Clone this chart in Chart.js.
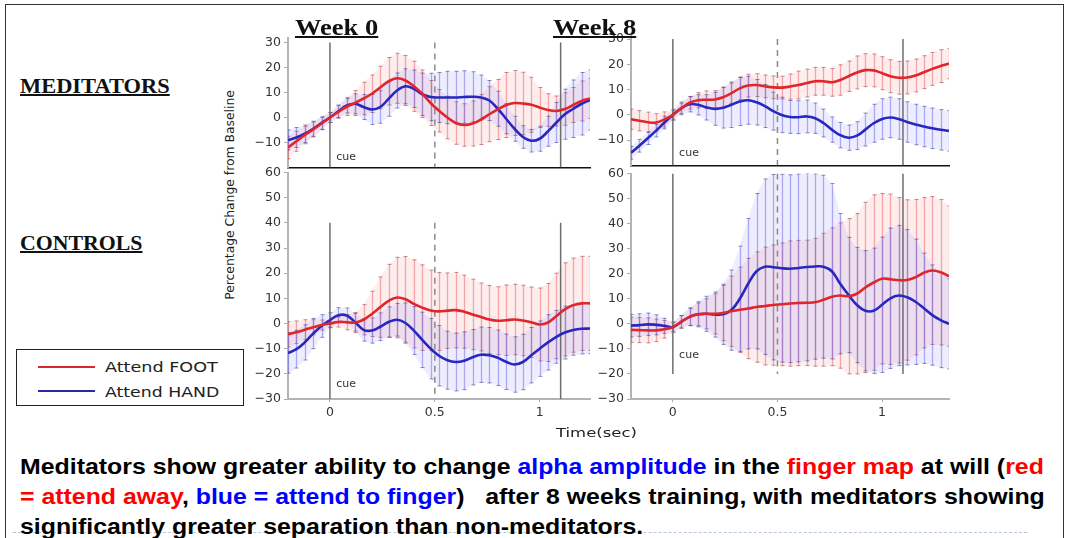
<!DOCTYPE html>
<html>
<head>
<meta charset="utf-8">
<script src="https://cdn.jsdelivr.net/npm/chart.js@4.4.0/dist/chart.umd.min.js"></script>
<style>
    html, body { margin: 0; padding: 0; background: #fff; width: 1067px; height: 538px; overflow: hidden; }
    #frame { position: absolute; left: 5px; top: 4px; width: 1059px; height: 600px; border: 1.5px solid #333; box-sizing: border-box; }
    canvas { position: absolute; }
    .txt { position: absolute; white-space: pre; line-height: 1; transform-origin: 0 0; }
    .head { font-family: 'Liberation Serif', serif; font-weight: bold; text-decoration: underline; text-decoration-thickness: 1.5px; color: #111; }
    .small { font-family: 'DejaVu Sans', sans-serif; color: #222; }
    .cap { position: absolute; left: 20px; white-space: pre; font-family: 'Liberation Sans', Arial, sans-serif; font-weight: bold; font-size: 22px; line-height: 30px; color: #000; transform-origin: 0 0; }
    .r { color: #ff0000; }
    .b { color: #0000ff; }
    #legend { position: absolute; left: 16px; top: 349px; width: 228px; height: 57px; border: 1.5px solid #222; box-sizing: border-box; background: #fff; }
    .key { position: absolute; height: 2px; }
</style>
</head>
<body>
<div id="frame"></div>
<div style="position:absolute;left:13px;top:532px;width:1014px;border-top:1.5px dashed #b8c8dc;"></div>

<canvas id="medW0" width="359" height="151" style="left:243px;top:27px;"></canvas>
<canvas id="medW8" width="375" height="151" style="left:586px;top:25px;"></canvas>
<canvas id="ctlW0" width="359" height="271" style="left:243px;top:162px;"></canvas>
<canvas id="ctlW8" width="375" height="270" style="left:586px;top:163px;"></canvas>

<div class="txt head" style="left:295px;top:16px;font-size:23px;" data-fit="83">Week 0</div>
<div class="txt head" style="left:553px;top:16px;font-size:23px;" data-fit="83">Week 8</div>
<div class="txt head" style="left:20px;top:75px;font-size:22px;" data-fit="150">MEDITATORS</div>
<div class="txt head" style="left:20px;top:232px;font-size:22px;" data-fit="122">CONTROLS</div>

<div id="ytitle" class="txt small" style="left:229px;top:195px;font-size:13px;line-height:1;">Percentage Change from Baseline</div>
<div class="txt small" style="left:556px;top:426px;font-size:13px;" data-fit="81">Time(sec)</div>

<div id="legend"></div>
<div class="key" style="left:38px;top:366px;width:57px;background:#d42a30;"></div>
<div class="key" style="left:38px;top:390px;width:57px;background:#2a2aa8;"></div>
<div class="txt small" style="left:105px;top:360px;font-size:14px;" data-fit="113">Attend FOOT</div>
<div class="txt small" style="left:105px;top:385px;font-size:14px;" data-fit="115">Attend HAND</div>

<div id="cap1" class="cap" style="top:452px;">Meditators show greater ability to change <span class="b">alpha amplitude</span> in the <span class="r">finger map</span> at will (<span class="r">red</span></div>
<div class="cap" style="top:482px;"><span class="r">= attend away</span>, <span class="b">blue = attend to finger</span>)   after 8 weeks training, with meditators showing</div>
<div class="cap" style="top:512px;">significantly greater separation than non-meditators.</div>

<script>
// Time axis (sec) shared by all panels; left column stops at 1.24 s
const times = [-0.2, -0.16, -0.12, -0.08, -0.04, 0, 0.04, 0.08, 0.12, 0.16, 0.2, 0.24, 0.28, 0.32, 0.36, 0.4, 0.44, 0.48, 0.52, 0.56, 0.6, 0.64, 0.68, 0.72, 0.76, 0.8, 0.84, 0.88, 0.92, 0.96, 1, 1.04, 1.08, 1.12, 1.16, 1.2, 1.24, 1.28, 1.32];

// Meditators, week 0
const medW0Foot = [-12, -9.5, -7, -4.8, -2.4, 0, 2.2, 4.3, 5.8, 7.6, 9.5, 12, 14.5, 15.7, 14.8, 12.5, 9.5, 5.8, 2.7, 0, -2.2, -3, -2.4, -0.8, 1.3, 3.2, 5, 5.8, 5.6, 5.1, 4, 3, 2.6, 3.4, 5, 6.6, 7.6];
const medW0FootErr = [4.5, 4, 3.5, 3, 2.5, 2, 2.5, 3.5, 5, 6.5, 7.5, 8.5, 9.5, 10, 10, 10, 9.5, 9, 8.5, 8.5, 8.5, 8.5, 9, 10, 11, 12, 13, 13, 12.5, 11, 8, 6.5, 6, 6.5, 7, 8, 8];
const medW0Hand = [-9, -8, -6.5, -4.5, -2.2, 0, 2.5, 4.8, 5.5, 4.2, 3.2, 4.2, 7.5, 10.8, 12.5, 11.5, 9.3, 8.2, 8, 8, 8, 8.2, 8.3, 8, 6.8, 3.5, -0.5, -4.5, -7.8, -9.3, -8.5, -5.5, -2, 1.3, 3.5, 5.5, 7];
const medW0HandErr = [4, 4, 3.5, 3, 2.5, 2, 2.5, 3, 4, 5, 6, 6.5, 7, 7, 7, 7.5, 8.5, 9.5, 10, 10.5, 10.5, 10.5, 10, 9, 8, 7, 6, 5, 4.5, 4.5, 5, 6, 8, 10, 11.5, 12.5, 12];

// Meditators, week 8
const medW8Foot = [-1.7, -2.3, -2.9, -3, -1.8, 0, 2.6, 4.8, 5.8, 6, 6.1, 7, 8.6, 10.5, 11.6, 11.8, 11.3, 10.9, 10.8, 11.2, 11.8, 12.6, 13.3, 13.3, 12.9, 13.8, 15.3, 16.8, 17.7, 17.6, 16.5, 15.3, 14.7, 14.8, 15.6, 16.9, 18.2, 19.3, 20.3];
const medW8FootErr = [4, 4, 4, 3.5, 3, 2, 2, 2.5, 3, 3.5, 3.5, 4, 4, 4.5, 4.5, 4.5, 4.5, 4.5, 4.5, 5, 5.5, 5.5, 5.5, 5.5, 5.5, 6, 6, 6.5, 6.5, 6.5, 6.5, 6.5, 6.5, 6.5, 6.5, 6.5, 6.5, 6.5, 6];
const medW8Hand = [-15, -12.2, -9.2, -6.2, -3, 0, 2.6, 4.2, 4, 3, 2.4, 2.8, 4, 5.3, 5.8, 5, 3.5, 1.5, 0, -0.8, -0.9, -0.6, -1.3, -3.2, -5.8, -8, -9, -8.2, -5.8, -3.3, -1.6, -1, -1.6, -2.8, -3.8, -4.6, -5.3, -5.9, -6.3];
const medW8HandErr = [2.5, 2.5, 2.5, 2.5, 2.5, 2, 2.5, 3, 4, 5, 6.5, 8, 9, 9.5, 9.5, 9, 8.5, 7.5, 7, 6.5, 6.5, 6.5, 6, 5.5, 5, 5, 5, 5.5, 6.5, 7.5, 8, 8, 8, 8, 8, 8, 8, 8, 8];

// Controls, week 0
const ctlW0Foot = [-4.3, -3.5, -2.5, -1.5, -0.6, 0, 0.6, 0.5, 0.4, 1.5, 3.8, 6.5, 9, 10.3, 9.6, 7.8, 6.3, 5.2, 4.8, 5.1, 5.3, 4.7, 3.6, 2.6, 1.6, 1.1, 1.3, 1.6, 1.2, 0.5, -0.4, 0.4, 3, 5.6, 7.3, 8, 8];
const ctlW0FootErr = [5, 4.5, 4, 3, 2, 1.5, 2, 3, 4, 6, 9, 12, 14.5, 16, 17, 17.5, 17, 16, 15.5, 15, 15, 14.5, 14, 13.5, 13.5, 13.5, 14, 14, 14, 14, 14.5, 15.5, 17, 18.5, 18.7, 18.7, 18.7];
const ctlW0Hand = [-11.7, -10.2, -7.5, -4, -1, 1.3, 3.3, 3.2, 0.5, -2.5, -2.8, -1.3, 0.6, 1.5, 0.2, -2.8, -6.5, -10, -12.8, -14.6, -15.3, -14.8, -13.4, -12.4, -12.6, -13.6, -15.2, -16.3, -15.3, -12.6, -10, -7.5, -5.3, -3.6, -2.6, -2.1, -2];
const ctlW0HandErr = [8, 7.5, 7, 6, 4.5, 3, 3, 3, 3.5, 4.5, 5, 5.5, 6, 6.5, 8, 9.5, 11, 12, 12, 11.5, 11.5, 11.5, 11, 11, 11, 11, 11, 11, 11, 11, 11, 11, 10.5, 10.5, 10, 10, 10];

// Controls, week 8
const ctlW8Foot = [-2.4, -2.5, -2.6, -2.6, -2.2, -1.3, 0.8, 2.8, 3.8, 4, 4, 4.3, 5, 5.6, 6.1, 6.7, 7.1, 7.5, 7.8, 8.1, 8.3, 8.4, 8.6, 9.6, 10.8, 11.3, 11, 12, 14.5, 16.5, 18, 17.8, 17.4, 17.5, 18.6, 20.4, 21.3, 20.6, 19];
const ctlW8FootErr = [5, 5, 5, 4.5, 3.5, 2, 2.5, 3.5, 4.5, 6, 8, 11, 14, 17, 20, 22, 23.5, 24, 24.5, 25, 25, 25, 25.5, 26.5, 27.5, 29, 31, 32, 34, 35, 34, 34, 33, 32, 31, 30, 29.5, 29, 28];
const ctlW8Hand = [-0.7, -0.5, -0.2, -0.4, -0.8, -1.3, 0.8, 2.8, 3.8, 4, 3.7, 3.8, 5.5, 10, 16, 21, 22.8, 22.6, 22.2, 22, 22.3, 22.7, 22.9, 22.8, 21, 16, 11.5, 7.5, 5.2, 5.2, 7.6, 10.2, 11.3, 10.6, 8.8, 6.2, 3.5, 1.5, 0];
const ctlW8HandErr = [4.5, 4.5, 4.5, 4, 3, 2, 2.5, 3.5, 5, 7, 9, 12, 16, 21, 26, 31, 35, 37, 37.5, 37.5, 37.5, 37.5, 37, 36.5, 35, 28, 23, 23, 24, 25, 27, 28, 28, 27, 25, 22, 20, 19, 18];

// Axis ticks and event markers
const yTicksTop = [30, 20, 10, 0, -10];
const yTicksBottom = [60, 50, 40, 30, 20, 10, 0, -10, -20, -30];
const xTicks = [0, 0.5, 1];
const solidMarkers = [0, 1.1];
const dashedMarkers = [0.5];

const footColor = '#e0262b';
const handColor = '#2828c0';

// error bars (with a faint band behind them), marker lines and the "cue" label
const panelDecor = {
    id: 'panelDecor',
    beforeDatasetsDraw: function(chart, args, opts) {
        const ctx = chart.ctx;
        const area = chart.chartArea;
        const x = chart.scales.x;
        const y = chart.scales.y;
        ctx.save();
        ctx.beginPath();
        ctx.rect(area.left, area.top, area.right - area.left, area.bottom - area.top);
        ctx.clip();

        chart.data.datasets.forEach(function(ds) {
            // band between mean + err and mean - err
            ctx.fillStyle = ds.bandColor;
            ctx.beginPath();
            ds.data.forEach(function(pt, i) {
                const px = x.getPixelForValue(pt.x);
                const py = y.getPixelForValue(pt.y + ds.errors[i]);
                if (i === 0) ctx.moveTo(px, py); else ctx.lineTo(px, py);
            });
            for (let i = ds.data.length - 1; i >= 0; i--) {
                const pt = ds.data[i];
                ctx.lineTo(x.getPixelForValue(pt.x), y.getPixelForValue(pt.y - ds.errors[i]));
            }
            ctx.closePath();
            ctx.fill();
        });

        chart.data.datasets.forEach(function(ds) {
            ds.data.forEach(function(pt, i) {
                const e = ds.errors[i];
                const px = Math.round(x.getPixelForValue(pt.x)) + 0.5;
                const top = y.getPixelForValue(pt.y + e);
                const bot = y.getPixelForValue(pt.y - e);
                ctx.strokeStyle = ds.barColor;
                ctx.lineWidth = 1.3;
                ctx.beginPath();
                ctx.moveTo(px, top);
                ctx.lineTo(px, bot);
                ctx.stroke();
                ctx.strokeStyle = ds.capColor;
                ctx.lineWidth = 1;
                ctx.beginPath();
                ctx.moveTo(px - 2, top);
                ctx.lineTo(px + 2, top);
                ctx.moveTo(px - 2, bot);
                ctx.lineTo(px + 2, bot);
                ctx.stroke();
            });
        });

        ctx.strokeStyle = '#6e6e6e';
        ctx.lineWidth = 1.5;
        const drawMarker = function(t) {
            const px = x.getPixelForValue(t);
            ctx.beginPath();
            ctx.moveTo(px, y.getPixelForValue(opts.markerTop));
            ctx.lineTo(px, y.getPixelForValue(opts.markerBottom));
            ctx.stroke();
        };
        solidMarkers.forEach(drawMarker);
        ctx.setLineDash([6, 5]);
        ctx.strokeStyle = '#8a8a8a';
        dashedMarkers.forEach(drawMarker);
        ctx.setLineDash([]);

        ctx.fillStyle = '#333';
        ctx.font = '11px "DejaVu Sans"';
        ctx.textBaseline = 'middle';
        ctx.fillText('cue', x.getPixelForValue(0.03), y.getPixelForValue(opts.cueAt));
        ctx.restore();
    }
};

function makePanel(id, foot, footErr, hand, handErr, cfg) {
    const canvas = document.getElementById(id);
    const toPoints = function(vals) {
        return vals.map(function(v, i) { return { x: times[i], y: v }; });
    };
    return new Chart(canvas.getContext('2d'), {
        type: 'line',
        data: {
            datasets: [{
                label: 'Attend FOOT',
                data: toPoints(foot),
                errors: footErr,
                borderColor: footColor,
                bandColor: 'rgba(245, 140, 140, 0.16)',
                barColor: 'rgba(236, 90, 95, 0.5)',
                capColor: 'rgba(150, 50, 60, 0.55)',
                borderWidth: 2.6,
                pointRadius: 0,
                tension: 0.4
            }, {
                label: 'Attend HAND',
                data: toPoints(hand),
                errors: handErr,
                borderColor: handColor,
                bandColor: 'rgba(140, 140, 245, 0.16)',
                barColor: 'rgba(100, 100, 235, 0.5)',
                capColor: 'rgba(50, 50, 140, 0.55)',
                borderWidth: 2.6,
                pointRadius: 0,
                tension: 0.4
            }]
        },
        options: {
            responsive: false,
            animation: false,
            layout: { padding: { top: 10, right: 12, bottom: 8, left: 0 } },
            plugins: {
                legend: { display: false },
                tooltip: { enabled: false },
                panelDecor: cfg.decor
            },
            scales: {
                x: {
                    type: 'linear',
                    min: cfg.xMin,
                    max: cfg.xMax,
                    afterBuildTicks: function(scale) {
                        scale.ticks = xTicks.map(function(v) { return { value: v }; });
                    },
                    afterFit: function(scale) { scale.height = cfg.showX ? 26 : 2; },
                    border: { color: cfg.showX ? '#b4b4b4' : '#111', width: cfg.showX ? 2 : 1.5 },
                    grid: { display: cfg.showX, drawOnChartArea: false, tickLength: 3, color: '#aaa' },
                    ticks: {
                        display: cfg.showX,
                        padding: 3,
                        color: '#333',
                        font: { family: 'DejaVu Sans', size: 12.5 },
                        callback: function(v) { return String(v); }
                    }
                },
                y: {
                    min: cfg.yMin,
                    max: cfg.yMax,
                    afterBuildTicks: function(scale) {
                        scale.ticks = cfg.yTicks.map(function(v) { return { value: v }; });
                    },
                    afterFit: function(scale) { scale.width = 45; },
                    border: { color: '#b4b4b4', width: 2 },
                    grid: { drawOnChartArea: false, tickLength: 4, color: '#aaa' },
                    ticks: {
                        padding: 3,
                        color: '#333',
                        font: { family: 'DejaVu Sans', size: 12.5 },
                        callback: function(v) { return v < 0 ? '\u2212' + Math.abs(v) : String(v); }
                    }
                }
            }
        },
        plugins: [panelDecor]
    });
}

document.addEventListener('DOMContentLoaded', function() {
    makePanel('medW0', medW0Foot, medW0FootErr, medW0Hand, medW0HandErr, {
        xMin: -0.2, xMax: 1.24, yMin: -20, yMax: 32, yTicks: yTicksTop, showX: false,
        decor: { markerTop: 30, markerBottom: -20, cueAt: -16 }
    });
    makePanel('medW8', medW8Foot, medW8FootErr, medW8Hand, medW8HandErr, {
        xMin: -0.2, xMax: 1.32, yMin: -20, yMax: 31.4, yTicks: yTicksTop, showX: false,
        decor: { markerTop: 30, markerBottom: -20, cueAt: -15 }
    });
    makePanel('ctlW0', ctlW0Foot, ctlW0FootErr, ctlW0Hand, ctlW0HandErr, {
        xMin: -0.2, xMax: 1.24, yMin: -30, yMax: 60, yTicks: yTicksBottom, showX: true,
        decor: { markerTop: 40, markerBottom: -30, cueAt: -24 }
    });
    makePanel('ctlW8', ctlW8Foot, ctlW8FootErr, ctlW8Hand, ctlW8HandErr, {
        xMin: -0.2, xMax: 1.32, yMin: -30, yMax: 60, yTicks: yTicksBottom, showX: true,
        decor: { markerTop: 60, markerBottom: -20, cueAt: -12.5 }
    });

    // stretch labels to the widths they have in the figure
    document.querySelectorAll('[data-fit]').forEach(function(el) {
        const k = Number(el.dataset.fit) / el.offsetWidth;
        el.style.transform = 'scaleX(' + k + ')';
    });
    const yt = document.getElementById('ytitle');
    const ky = 210 / yt.offsetWidth;
    yt.style.transform = 'translate(-50%, -50%) rotate(-90deg) scaleX(' + ky + ')';
    yt.style.transformOrigin = '50% 50%';

    const cap1 = document.getElementById('cap1');
    const kc = 1024 / cap1.offsetWidth;
    document.querySelectorAll('.cap').forEach(function(el) {
        el.style.transform = 'scaleX(' + kc + ')';
    });
});
</script>
</body>
</html>
